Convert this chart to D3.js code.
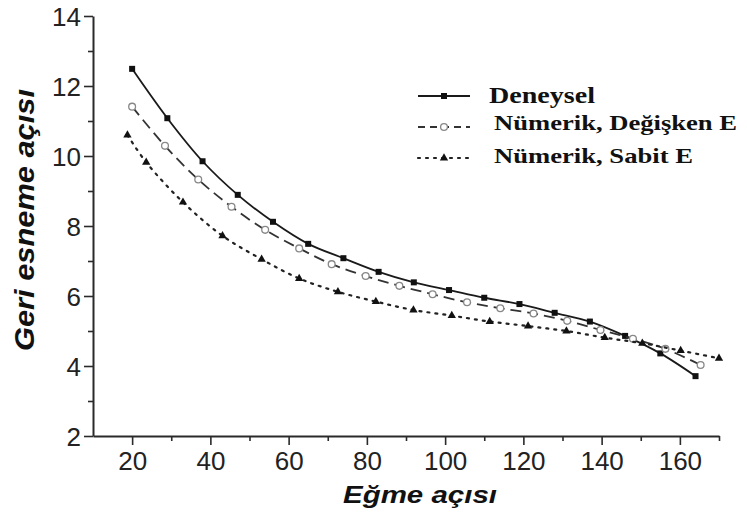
<!DOCTYPE html>
<html><head><meta charset="utf-8">
<script src="https://cdn.jsdelivr.net/npm/d3@7"></script>
<style>body{margin:0;background:#fff}svg{display:block}</style>
</head><body>
<svg id="c" width="747" height="515"></svg>
<script>
const xDeneysel = [20,29,38,47,56,65,74,83,92,101,110,119,128,137,146,155,164];
const yDeneysel = [12.49,11.08,9.85,8.89,8.12,7.49,7.08,6.69,6.39,6.17,5.95,5.77,5.52,5.27,4.86,4.36,3.71];
const xDegisken = [20,28.4,36.9,45.4,54,62.7,71,79.7,88.3,96.8,105.6,114.1,122.6,131.2,139.7,148,156.3,165.3];
const yDegisken = [11.41,10.29,9.33,8.55,7.89,7.36,6.91,6.57,6.29,6.05,5.82,5.65,5.5,5.29,5.03,4.78,4.49,4.03];
const xSabit = [18.8,23.6,33,43.1,53.1,62.7,72.6,82.3,91.9,101.7,111.4,121.2,131,140.8,150.4,160.2,170];
const ySabit = [10.6,9.82,8.68,7.72,7.05,6.5,6.12,5.84,5.6,5.44,5.27,5.14,5.0,4.81,4.65,4.44,4.22];
const xMajorTicks = [20,40,60,80,100,120,140,160];
const xMinorTicks = [30,50,70,90,110,130,150,170];
const yMajorTicks = [2,4,6,8,10,12,14];
const yMinorTicks = [3,5,7,9,11,13];
const legendLabels = ["Deneysel","Nümerik, Değişken E","Nümerik, Sabit E"];
const xTitle = "Eğme açısı";
const yTitle = "Geri esneme açısı";

const svg = d3.select("#c");
const x = d3.scaleLinear().domain([10,170]).range([93,719]);
const y = d3.scaleLinear().domain([2,14]).range([436,16]);
const axisColor = "#2a2a2a";

// axes
const gx = svg.append("g").attr("transform","translate(0,436)");
gx.call(d3.axisBottom(x).tickValues(xMajorTicks).tickSize(9).tickSizeOuter(0).tickFormat(d3.format("d")));
gx.append("g").call(d3.axisBottom(x).tickValues(xMinorTicks).tickSize(5).tickSizeOuter(0).tickFormat(""))
  .select(".domain").remove();
const gy = svg.append("g").attr("transform","translate(93,0)");
gy.call(d3.axisLeft(y).tickValues(yMajorTicks).tickSize(9).tickSizeOuter(0).tickFormat(d3.format("d")));
gy.append("g").call(d3.axisLeft(y).tickValues(yMinorTicks).tickSize(5).tickSizeOuter(0).tickFormat(""))
  .select(".domain").remove();
svg.selectAll(".domain").attr("stroke",axisColor).attr("stroke-width",2);
svg.selectAll(".tick line").attr("stroke",axisColor).attr("stroke-width",1.6);
svg.selectAll(".tick text").attr("fill","#222").style("font-family","'Liberation Sans', Arial, sans-serif").style("font-size","26px");
gx.selectAll(".tick text").attr("dy","0.71em").attr("y",16);
gy.selectAll(".tick text").attr("x",-12).attr("dy","0.36em");

// titles
svg.append("text").attr("x",343).attr("y",503).attr("textLength",154).attr("lengthAdjust","spacingAndGlyphs")
  .style("font-family","'Liberation Sans', Arial, sans-serif").style("font-weight","bold").style("font-style","italic")
  .style("font-size","23px").attr("fill","#111").text(xTitle);
svg.append("text").attr("transform","translate(34,220) rotate(-90)").attr("text-anchor","middle")
  .attr("textLength",262).attr("lengthAdjust","spacingAndGlyphs")
  .style("font-family","'Liberation Sans', Arial, sans-serif").style("font-weight","bold").style("font-style","italic")
  .style("font-size","27px").attr("fill","#111").text(yTitle);

// series
const series = [
  {xs:xDeneysel, ys:yDeneysel, dash:null, width:1.8, color:"#1a1a1a", marker:"square"},
  {xs:xDegisken, ys:yDegisken, dash:"11,6", width:1.8, color:"#333", marker:"circle"},
  {xs:xSabit, ys:ySabit, dash:"2,6", width:2.2, color:"#222", marker:"triangle"}
];
const line = d3.line().x(d=>x(d[0])).y(d=>y(d[1])).curve(d3.curveCatmullRom);
function drawMarker(g, type, cx, cy){
  if(type==="square") g.append("rect").attr("x",cx-3).attr("y",cy-3).attr("width",6).attr("height",6).attr("fill","#111");
  else if(type==="circle") g.append("circle").attr("cx",cx).attr("cy",cy).attr("r",3.4).attr("fill","#fff").attr("stroke","#888").attr("stroke-width",1.3);
  else g.append("path").attr("d",d3.symbol(d3.symbolTriangle,30)()).attr("transform",`translate(${cx},${cy})`).attr("fill","#111");
}
series.forEach(s=>{
  const pts = s.xs.map((v,i)=>[v,s.ys[i]]);
  const p = svg.append("path").datum(pts).attr("d",line).attr("fill","none")
    .attr("stroke",s.color).attr("stroke-width",s.width).attr("stroke-linecap", s.marker==="triangle"?"round":"butt");
  if(s.dash) p.attr("stroke-dasharray",s.dash);
  const g = svg.append("g");
  pts.forEach(d=>drawMarker(g, s.marker, x(d[0]), y(d[1])));
});

// legend
const legY = [96,127,158];
const legTextY = [102.5,130,162.5];
const legTextX = [489,494,494];
const legLen = [106,243,199];
series.forEach((s,i)=>{
  const l = svg.append("line").attr("x1",418).attr("x2",470).attr("y1",legY[i]).attr("y2",legY[i])
    .attr("stroke",s.color).attr("stroke-width",s.width).attr("stroke-linecap", s.marker==="triangle"?"round":"butt");
  if(s.dash) l.attr("stroke-dasharray", s.marker==="circle" ? "7,5" : "2,6");
  const g = svg.append("g");
  drawMarker(g, s.marker, 444, legY[i]);
  svg.append("text").attr("x",legTextX[i]).attr("y",legTextY[i]).attr("textLength",legLen[i]).attr("lengthAdjust","spacingAndGlyphs")
    .style("font-family","'Liberation Serif', 'Times New Roman', serif").style("font-weight","bold")
    .style("font-size", i===0 ? "23px" : "22px").attr("fill","#111").text(legendLabels[i]);
});
</script>
</body></html>
